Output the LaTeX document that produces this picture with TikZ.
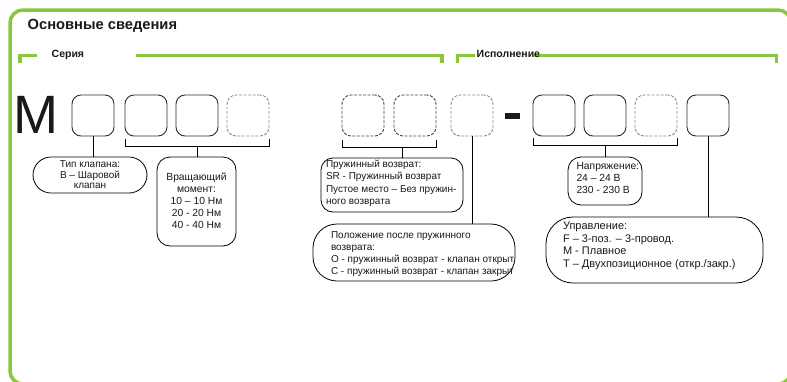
\documentclass[tikz,border=0pt]{standalone}
\usepackage{fontspec}
\setmainfont{Liberation Sans}
\usetikzlibrary{calc}
\definecolor{frameg}{RGB}{140,198,63}
\definecolor{boxc}{RGB}{45,45,45}
\definecolor{darkd}{RGB}{70,70,70}
\definecolor{lightd}{RGB}{140,140,140}
\definecolor{txtc}{RGB}{25,25,25}
\begin{document}
\begin{tikzpicture}[x=1pt,y=-1pt,
  sbox/.style={draw=boxc, line width=0.9pt, rounded corners=9pt, minimum width=42pt, minimum height=41pt, inner sep=0pt, outer sep=0pt},
  dboxd/.style={sbox, draw=darkd, dash pattern=on 3pt off 1.5pt},
  dboxl/.style={sbox, draw=lightd, dash pattern=on 3pt off 1.5pt},
  info/.style={draw=black, line width=0.8pt, inner sep=0pt, outer sep=0pt},
  txt/.style={inner sep=0pt, outer sep=0pt, text=txtc, align=left},
  conn/.style={draw=black, line width=0.8pt},
  gline/.style={draw=frameg, line width=3.2pt, line join=miter},
  head/.style={inner sep=0pt, text=txtc, anchor=base west}]
\useasboundingbox (0,0) rectangle (787,381);
\begin{scope}
\clip (0,0) rectangle (787,381);
\draw[frameg, line width=3.5pt, rounded corners=13pt] (10,10) rectangle (791,384);
\end{scope}
% headings
\node[head, font=\fontsize{14.7}{16}\selectfont\bfseries] (title) at (27.5,29.5) {Основные сведения};
\draw[gline] (20,63) -- (20,55.5) -- (36.5,55.5);
\node[head, font=\fontsize{10.5}{12}\selectfont\bfseries] (seria) at (51.5,57) {Серия};
\draw[gline] (136,55.5) -- (442,55.5) -- (442,63);
\draw[gline] (457.5,63) -- (457.5,55.5) -- (475,55.5);
\draw[gline] (534,55.5) -- (776.5,55.5) -- (776.5,63);
\node[head, font=\fontsize{10.5}{12}\selectfont\bfseries] (isp) at (476.5,57) {Исполнение};
% code
\node[head, font=\fontsize{54}{60}\selectfont] (M) at (13,133) {M};
\node[sbox]  (b1)  at (93,115.5) {};
\node[sbox]  (b2)  at (146,115.5) {};
\node[sbox]  (b3)  at (197,115.5) {};
\node[dboxl] (b4)  at (248,115.5) {};
\node[dboxd] (b5)  at (363,115.5) {};
\node[dboxd] (b6)  at (415,115.5) {};
\node[dboxl] (b7)  at (472,115.5) {};
\node[fill=txtc, minimum width=15pt, minimum height=5.5pt, inner sep=0pt] (dash) at (512.5,115.75) {};
\node[sbox]  (b8)  at (554,115.5) {};
\node[sbox]  (b9)  at (605,115.5) {};
\node[dboxl] (b10) at (656,115.5) {};
\node[sbox]  (b11) at (708,115.5) {};
% info nodes
\node[info, rounded corners=18pt, minimum width=114pt, minimum height=36pt] (tip) at (90,175) {};
\node[info, rounded corners=13pt, minimum width=79pt, minimum height=89pt] (torque) at (196.5,201.5) {};
\node[info, rounded corners=12pt, minimum width=142pt, minimum height=54pt] (spring) at (392,185) {};
\node[info, rounded corners=24pt, minimum width=202pt, minimum height=57pt] (pos) at (414,252.5) {};
\node[info, rounded corners=13pt, minimum width=74pt, minimum height=48pt] (volt) at (605,181) {};
\node[info, rounded corners=27pt, minimum width=217pt, minimum height=66pt] (ctrl) at (654.5,250) {};
% texts
\node[txt, align=center, anchor=north, font=\fontsize{10}{10.5}\selectfont] (tipT) at ([yshift=-4pt]tip.north) {Тип клапана:\\В – Шаровой\\клапан};
\node[txt, align=center, anchor=north, font=\fontsize{10.3}{12}\selectfont] (torqueT) at ([yshift=-16pt]torque.north) {Вращающий\\момент:\\10 – 10 Нм\\20 - 20 Нм\\40 - 40 Нм};
\node[txt, anchor=north west, font=\fontsize{10}{12.5}\selectfont] (springT) at ([xshift=5pt,yshift=-2pt]spring.north west) {Пружинный возврат:\\SR - Пружинный возврат\\Пустое место – Без пружин-\\ного возврата};
\node[txt, anchor=north west, font=\fontsize{10}{11.8}\selectfont] (posT) at ([xshift=18pt,yshift=-8pt]pos.north west) {Положение после пружинного\\возврата:\\O - пружинный возврат - клапан открыт\\C - пружинный возврат - клапан закрыт};
\node[txt, anchor=north west, font=\fontsize{10.3}{12.2}\selectfont] (voltT) at ([xshift=8.5pt,yshift=-5pt]volt.north west) {Напряжение:\\24 – 24 В\\230 - 230 В};
\node[txt, anchor=north west, font=\fontsize{11}{12.5}\selectfont] (ctrlT) at ([xshift=17pt,yshift=-5pt]ctrl.north west) {Управление:\\F – 3-поз. – 3-провод.\\M - Плавное\\T – Двухпозиционное (откр./закр.)};
% connectors
\draw[conn] (b1.south) -- (b1.south |- tip.north);
\coordinate (k1) at ($(b3.south)+(0,10)$);
\draw[conn] ($(b2.south west)+(0,3)$) -- ($(b2.south west)+(0,10)$) -- ($(b4.south east)+(0,10)$) -- ($(b4.south east)+(0,3)$);
\draw[conn] (k1) -- (k1 |- torque.north);
\coordinate (k2) at ($($(b5.south)!0.75!(b6.south)$)+(0,11)$);
\draw[conn] ($(b5.south west)+(0,4)$) -- ($(b5.south west)+(0,11)$) -- ($(b6.south east)+(0,11)$) -- ($(b6.south east)+(0,4)$);
\draw[conn] (k2) -- (k2 |- spring.north);
\draw[conn] (b7.south) -- (b7.south |- pos.north);
\coordinate (k3) at ($(b9.south)+(0,9)$);
\draw[conn] ($(b8.south west)+(0,2)$) -- ($(b8.south west)+(0,9)$) -- ($(b10.south east)+(0,9)$) -- ($(b10.south east)+(0,2)$);
\draw[conn] (k3) -- (k3 |- volt.north);
\draw[conn] (b11.south) -- (b11.south |- ctrl.north);
\end{tikzpicture}
\end{document}
